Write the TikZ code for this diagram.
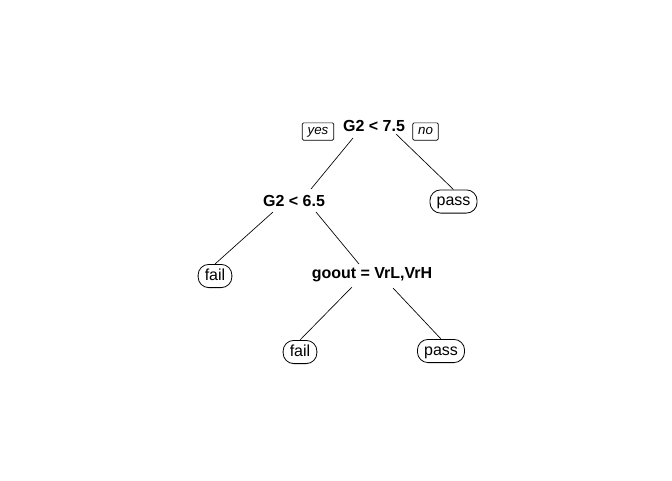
\documentclass[tikz,border=0pt]{standalone}
\usepackage{fontspec}
\setmainfont{Liberation Sans}
\begin{document}
\begin{tikzpicture}[x=0.75pt,y=-0.75pt,
  split/.style={font=\fontsize{12}{14}\selectfont\bfseries, inner sep=1pt},
  leaf/.style={draw, line width=0.6pt, rounded corners=8pt, font=\fontsize{12}{14}\selectfont,
    inner xsep=5pt, inner ysep=3pt, text height=8.8pt, text depth=2.6pt},
  tag/.style={draw, line width=0.5pt, rounded corners=1pt, font=\fontsize{10}{11}\selectfont\itshape,
    inner xsep=4pt, inner ysep=2pt, text height=7pt, text depth=2pt},
  edge/.style={line width=0.5pt}]
\useasboundingbox (0,0) rectangle (672,480);
% split nodes
\node[split] (root) at (374,126) {G2 < 7.5};
\node[split] (s2) at (294,201) {G2 < 6.5};
\node[split] (s3) at (372,275) {goout = VrL,VrH};
% branch direction tags
\node[tag] (yes) at (318,131.5) {yes};
\node[tag] (no) at (425.5,131.5) {no};
% leaves
\node[leaf] (p1) at (453.5,201.5) {pass};
\node[leaf] (f1) at (215,276) {fail};
\node[leaf] (f2) at (300,352) {fail};
\node[leaf] (p2) at (441,351) {pass};
% edge end points just below the split labels
\coordinate (r-l) at (353,138);
\coordinate (r-r) at (396,134);
\coordinate (s2-l) at (273,212);
\coordinate (s2-r) at (316,212);
\coordinate (s3-l) at (352,287);
\coordinate (s3-r) at (393,288);
\coordinate (s2-t) at (311,189);
\coordinate (s3-t) at (359,264);
% edges
\draw[edge] (r-l) -- (s2-t);
\draw[edge] (r-r) -- (p1.north);
\draw[edge] (s2-l) -- (f1.north);
\draw[edge] (s2-r) -- (s3-t);
\draw[edge] (s3-l) -- (f2.north);
\draw[edge] (s3-r) -- (p2.north);
\end{tikzpicture}
\end{document}
